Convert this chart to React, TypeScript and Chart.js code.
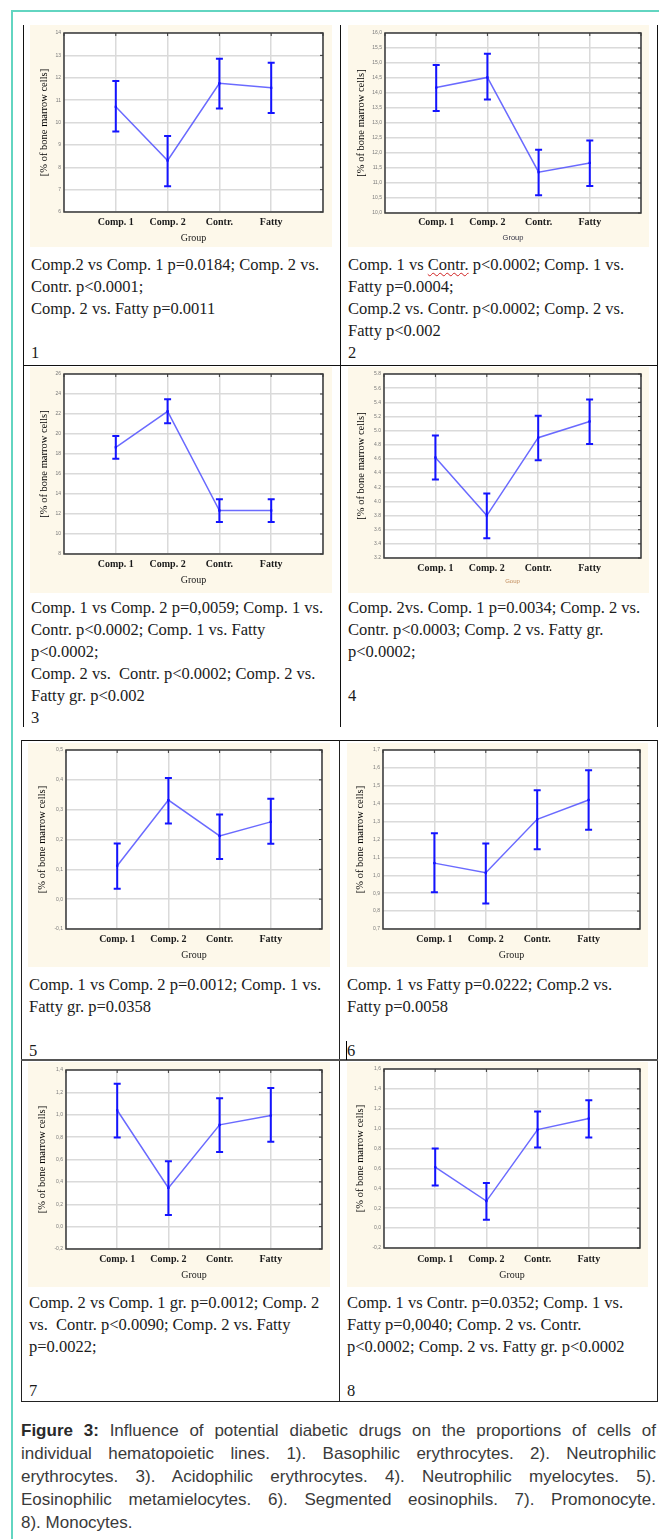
import React, { useEffect, useRef } from 'react';
import { Chart, registerables } from 'chart.js';

Chart.register(...registerables);

// ---------------- DATA ----------------
const categories = ['Comp. 1', 'Comp. 2', 'Contr.', 'Fatty'];
const yAxisTitle = '[% of bone marrow cells]';

// 1) Basophilic erythrocytes
const mean1 = [10.7, 8.3, 11.75, 11.55];
const lower1 = [9.6, 7.15, 10.63, 10.43];
const upper1 = [11.85, 9.4, 12.85, 12.67];
const ticks1 = [6, 7, 8, 9, 10, 11, 12, 13, 14];

// 2) Neutrophilic erythrocytes
const mean2 = [14.18, 14.52, 11.36, 11.67];
const lower2 = [13.4, 13.78, 10.59, 10.9];
const upper2 = [14.93, 15.31, 12.11, 12.42];
const ticks2 = [10, 10.5, 11, 11.5, 12, 12.5, 13, 13.5, 14, 14.5, 15, 15.5, 16];

// 3) Acidophilic erythrocytes
const mean3 = [18.67, 22.27, 12.35, 12.35];
const lower3 = [17.53, 21.07, 11.2, 11.2];
const upper3 = [19.8, 23.47, 13.47, 13.47];
const ticks3 = [8, 10, 12, 14, 16, 18, 20, 22, 24, 26];

// 4) Neutrophilic myelocytes
const mean4 = [4.62, 3.8, 4.9, 5.13];
const lower4 = [4.31, 3.48, 4.58, 4.81];
const upper4 = [4.93, 4.11, 5.21, 5.44];
const ticks4 = [3.2, 3.4, 3.6, 3.8, 4.0, 4.2, 4.4, 4.6, 4.8, 5.0, 5.2, 5.4, 5.6, 5.8];

// 5) Eosinophilic metamielocytes
const mean5 = [0.112, 0.332, 0.212, 0.259];
const lower5 = [0.035, 0.254, 0.135, 0.186];
const upper5 = [0.187, 0.406, 0.284, 0.337];
const ticks5 = [-0.1, 0, 0.1, 0.2, 0.3, 0.4, 0.5];

// 6) Segmented eosinophils
const mean6 = [1.068, 1.014, 1.313, 1.421];
const lower6 = [0.906, 0.843, 1.146, 1.254];
const upper6 = [1.235, 1.178, 1.475, 1.587];
const ticks6 = [0.7, 0.8, 0.9, 1.0, 1.1, 1.2, 1.3, 1.4, 1.5, 1.6, 1.7];

// 7) Promonocyte
const mean7 = [1.04, 0.346, 0.91, 0.993];
const lower7 = [0.797, 0.103, 0.667, 0.759];
const upper7 = [1.278, 0.584, 1.148, 1.24];
const ticks7 = [-0.2, 0, 0.2, 0.4, 0.6, 0.8, 1.0, 1.2, 1.4];

// 8) Monocytes
const mean8 = [0.613, 0.272, 0.991, 1.102];
const lower8 = [0.429, 0.085, 0.81, 0.911];
const upper8 = [0.8, 0.453, 1.172, 1.286];
const ticks8 = [-0.2, 0, 0.2, 0.4, 0.6, 0.8, 1.0, 1.2, 1.4, 1.6];

// decimals and decimal separator of each chart's tick labels
const tickDecimals = [0, 1, 0, 1, 1, 1, 1, 1];
const tickSeparators = ['.', ',', '.', '.', ',', ',', ',', ','];
const groupTitles = ['Group', 'Group', 'Group', 'Goup', 'Group', 'Group', 'Group', 'Group'];

const cellTexts = [
  ['Comp.2 vs Comp. 1 p=0.0184; Comp. 2 vs.', 'Contr. p<0.0001;', 'Comp. 2 vs. Fatty p=0.0011', '', '1'],
  ['Comp. 1 vs Contr. p<0.0002; Comp. 1 vs.', 'Fatty p=0.0004;', 'Comp.2 vs. Contr. p<0.0002; Comp. 2 vs.', 'Fatty p<0.002', '2'],
  ['Comp. 1 vs Comp. 2 p=0,0059; Comp. 1 vs.', 'Contr. p<0.0002; Comp. 1 vs. Fatty', 'p<0.0002;', 'Comp. 2 vs.  Contr. p<0.0002; Comp. 2 vs.', 'Fatty gr. p<0.002', '3'],
  ['Comp. 2vs. Comp. 1 p=0.0034; Comp. 2 vs.', 'Contr. p<0.0003; Comp. 2 vs. Fatty gr.', 'p<0.0002;', '', '4'],
  ['Comp. 1 vs Comp. 2 p=0.0012; Comp. 1 vs.', 'Fatty gr. p=0.0358', '', '5'],
  ['Comp. 1 vs Fatty p=0.0222; Comp.2 vs.', 'Fatty p=0.0058', '', '6'],
  ['Comp. 2 vs Comp. 1 gr. p=0.0012; Comp. 2', 'vs.  Contr. p<0.0090; Comp. 2 vs. Fatty', 'p=0.0022;', '', '7'],
  ['Comp. 1 vs Contr. p=0.0352; Comp. 1 vs.', 'Fatty p=0,0040; Comp. 2 vs. Contr.', 'p<0.0002; Comp. 2 vs. Fatty gr. p<0.0002', '', '8'],
];

const captionLines = [
  'Influence of potential diabetic drugs on the proportions of cells of',
  'individual hematopoietic lines. 1). Basophilic erythrocytes. 2). Neutrophilic',
  'erythrocytes. 3). Acidophilic erythrocytes. 4). Neutrophilic myelocytes. 5).',
  'Eosinophilic metamielocytes. 6). Segmented eosinophils. 7). Promonocyte.',
  '8). Monocytes.',
];

const means = [mean1, mean2, mean3, mean4, mean5, mean6, mean7, mean8];
const lowers = [lower1, lower2, lower3, lower4, lower5, lower6, lower7, lower8];
const uppers = [upper1, upper2, upper3, upper4, upper5, upper6, upper7, upper8];
const tickLists = [ticks1, ticks2, ticks3, ticks4, ticks5, ticks6, ticks7, ticks8];

// ---------------- LAYOUT ----------------
type Box = { x: number; y: number; w: number; h: number; pl: number; pt: number; pr: number; pb: number; lab: number; grp: number; ttl: number };
const boxes: Box[] = [
  { x: 30, y: 25, w: 302, h: 222, pl: 34, pt: 8, pr: 293, pb: 187, lab: 197, grp: 213, ttl: 14 },
  { x: 348, y: 25, w: 301, h: 222, pl: 37, pt: 8, pr: 293, pb: 188, lab: 197, grp: 213, ttl: 13 },
  { x: 30, y: 367, w: 302, h: 226, pl: 34, pt: 7, pr: 293, pb: 187, lab: 197, grp: 213, ttl: 14 },
  { x: 348, y: 367, w: 301, h: 226, pl: 36, pt: 7, pr: 293, pb: 191, lab: 201, grp: 214, ttl: 13 },
  { x: 28, y: 743, w: 302, h: 224, pl: 38, pt: 7, pr: 294, pb: 186, lab: 196, grp: 212, ttl: 14 },
  { x: 347, y: 743, w: 301, h: 224, pl: 36, pt: 7, pr: 293, pb: 186, lab: 196, grp: 212, ttl: 13 },
  { x: 28, y: 1062, w: 302, h: 225, pl: 38, pt: 8, pr: 294, pb: 187, lab: 197, grp: 213, ttl: 14 },
  { x: 347, y: 1062, w: 301, h: 225, pl: 37, pt: 7, pr: 293, pb: 186, lab: 197, grp: 213, ttl: 13 },
];

const textBlocks = [
  { x: 31, y: 254 },
  { x: 348, y: 254 },
  { x: 31, y: 597 },
  { x: 348, y: 597 },
  { x: 29, y: 974 },
  { x: 347, y: 974 },
  { x: 29, y: 1292 },
  { x: 347, y: 1292 },
];

const SERIF = "'Liberation Serif', 'Times New Roman', serif";
const SANS = "'Liberation Sans', Arial, sans-serif";

const plotPlugin = {
  id: 'plotFrame',
  beforeDraw(chart: any) {
    const { ctx, chartArea: a } = chart;
    ctx.save();
    ctx.fillStyle = '#ffffff';
    ctx.fillRect(a.left, a.top, a.right - a.left, a.bottom - a.top);
    ctx.restore();
  },
  beforeDatasetsDraw(chart: any) {
    const { ctx, chartArea: a } = chart;
    const xs = chart.scales.x;
    const ys = chart.scales.y;
    ctx.save();
    ctx.strokeStyle = '#3a3a3a';
    ctx.lineWidth = 1.5;
    ctx.strokeRect(a.left, a.top, a.right - a.left, a.bottom - a.top);
    ctx.lineWidth = 1;
    ctx.beginPath();
    ys.ticks.forEach((t: any) => {
      const y = ys.getPixelForValue(t.value);
      ctx.moveTo(a.right, y);
      ctx.lineTo(a.right - 3, y);
    });
    xs.ticks.forEach((t: any) => {
      const x = xs.getPixelForValue(t.value);
      ctx.moveTo(x, a.top);
      ctx.lineTo(x, a.top + 3);
    });
    ctx.stroke();
    ctx.restore();
  },
};

const errorBarPlugin = {
  id: 'errorBars',
  afterDatasetsDraw(chart: any, _args: any, opts: any) {
    const { ctx } = chart;
    const xs = chart.scales.x;
    const ys = chart.scales.y;
    ctx.save();
    ctx.strokeStyle = '#1414ff';
    ctx.lineWidth = 2;
    const cap = 3.5;
    (opts.lower as number[]).forEach((lo, i) => {
      const hi = opts.upper[i];
      const x = xs.getPixelForValue(i + 1);
      const y1 = ys.getPixelForValue(lo);
      const y2 = ys.getPixelForValue(hi);
      ctx.beginPath();
      ctx.moveTo(x, y1);
      ctx.lineTo(x, y2);
      ctx.moveTo(x - cap, y1);
      ctx.lineTo(x + cap, y1);
      ctx.moveTo(x - cap, y2);
      ctx.lineTo(x + cap, y2);
      ctx.stroke();
    });
    ctx.restore();
  },
};

function ErrChart({ idx }: { idx: number }) {
  const ref = useRef<HTMLCanvasElement>(null);
  const b = boxes[idx];
  useEffect(() => {
    const canvas = ref.current!;
    const mean = means[idx];
    const tickVals = tickLists[idx];
    const dec = tickDecimals[idx];
    const sep = tickSeparators[idx];
    const isGoup = groupTitles[idx] === 'Goup';
    const isSansGroup = idx === 1;
    const titleFont = isGoup
      ? { family: SANS, size: 6 }
      : isSansGroup
      ? { family: SANS, size: 7.5 }
      : { family: SERIF, size: 10 };
    const titleLH = titleFont.size * 1.2;
    const chart = new Chart(canvas, {
      type: 'line',
      data: {
        datasets: [
          {
            data: mean.map((v, i) => ({ x: i + 1, y: v })),
            borderColor: 'rgba(80,80,255,0.85)',
            borderWidth: 1.5,
            pointStyle: 'rect',
            pointRadius: 1.6,
            pointBackgroundColor: '#0000ff',
            pointBorderWidth: 0,
            tension: 0,
          } as any,
        ],
      },
      options: {
        animation: false,
        responsive: false,
        maintainAspectRatio: false,
        devicePixelRatio: 1,
        events: [],
        layout: { padding: { left: 0, top: b.pt, right: b.w - b.pr, bottom: 0 } },
        plugins: {
          legend: { display: false },
          tooltip: { enabled: false },
          errorBars: { lower: lowers[idx], upper: uppers[idx] },
        } as any,
        scales: {
          x: {
            type: 'linear',
            min: 0,
            max: categories.length + 1,
            afterFit: (s: any) => {
              s.height = b.h - b.pb;
            },
            afterBuildTicks: (s: any) => {
              s.ticks = [0, 1, 2, 3, 4, 5].map((v) => ({ value: v }));
            },
            ticks: {
              autoSkip: false,
              maxRotation: 0,
              padding: b.lab - b.pb - 6,
              font: { family: SERIF, size: 10, weight: 'bold' },
              color: '#1a1a1a',
              callback: (v: any) => categories[Number(v) - 1] ?? '',
            },
            grid: { color: '#dadada', lineWidth: 1.5, drawTicks: false },
            border: { display: false },
            title: {
              display: true,
              text: groupTitles[idx],
              font: titleFont as any,
              color: isGoup ? '#c08a5a' : isSansGroup ? '#333344' : '#1a1a1a',
              padding: { top: 0, bottom: b.h - b.grp - titleLH / 2 },
            },
          } as any,
          y: {
            type: 'linear',
            min: tickVals[0],
            max: tickVals[tickVals.length - 1],
            afterFit: (s: any) => {
              s.width = b.pl;
            },
            afterBuildTicks: (s: any) => {
              s.ticks = tickVals.map((v) => ({ value: v }));
            },
            ticks: {
              padding: 3,
              autoSkip: false,
              font: { family: SANS, size: 5 },
              color: '#7a7a7a',
              callback: (v: any) => Number(v).toFixed(dec).replace('.', sep),
            },
            grid: { color: '#dadada', lineWidth: 1.5, drawTicks: false },
            border: { display: false },
            title: {
              display: true,
              text: yAxisTitle,
              font: { family: SERIF, size: 10.5 },
              color: '#000000',
              padding: { top: b.ttl - 6.3, bottom: 0 },
            },
          } as any,
        },
      },
      plugins: [plotPlugin, errorBarPlugin],
    });
    return () => chart.destroy();
  }, [idx]);
  return (
    <div style={{ position: 'absolute', left: b.x, top: b.y, width: b.w, height: b.h, background: '#fdf8ea' }}>
      <canvas ref={ref} width={b.w} height={b.h} style={{ display: 'block', width: b.w, height: b.h }} />
    </div>
  );
}

function Line({ x, y, w, h, c }: { x: number; y: number; w: number; h: number; c: string }) {
  return <div style={{ position: 'absolute', left: x, top: y, width: w, height: h, background: c }} />;
}

function CellText({ idx }: { idx: number }) {
  const p = textBlocks[idx];
  const lines = cellTexts[idx];
  return (
    <div
      style={{
        position: 'absolute',
        left: p.x,
        top: p.y,
        fontFamily: SERIF,
        fontSize: 16.5,
        lineHeight: '22px',
        color: '#1b1b1b',
        whiteSpace: 'pre',
      }}
    >
      {lines.map((ln, i) => {
        if (idx === 1 && i === 0) {
          const parts = ln.split('Contr.');
          return (
            <div key={i}>
              {parts[0]}
              <span style={{ textDecoration: 'underline wavy #d02020', textDecorationThickness: 1, textUnderlineOffset: 2 }}>Contr.</span>
              {parts.slice(1).join('Contr.')}
            </div>
          );
        }
        if (idx === 5 && i === lines.length - 1) {
          return (
            <div key={i}>
              <span style={{ borderLeft: '1px solid #000', marginLeft: -1 }}>{ln}</span>
            </div>
          );
        }
        return <div key={i}>{ln === '' ? '\u00a0' : ln}</div>;
      })}
    </div>
  );
}

export default function App() {
  useEffect(() => {
    document.body.style.margin = '0';
  }, []);
  return (
    <div style={{ position: 'absolute', left: 0, top: 0, width: 659, height: 1539, overflow: 'hidden', background: '#fff' }}>
      {/* teal outer frame */}
      <div style={{ position: 'absolute', left: 11, top: 10, width: 660, height: 1600, borderLeft: '2px solid #62d5c1', borderTop: '2px solid #62d5c1' }} />

      {/* table 1 */}
      <Line x={23} y={25} w={1} h={702} c="#111" />
      <Line x={340} y={25} w={1} h={702} c="#111" />
      <Line x={657} y={25} w={1} h={702} c="#111" />
      <Line x={23} y={365} w={635} h={1} c="#111" />

      {/* table 2 */}
      <Line x={21} y={740} w={637} h={1} c="#111" />
      <Line x={21} y={740} w={1} h={662} c="#222" />
      <Line x={339} y={740} w={1} h={662} c="#222" />
      <Line x={657} y={740} w={1} h={662} c="#222" />
      <Line x={21} y={1059} w={637} h={2} c="#555" />
      <Line x={21} y={1401} w={637} h={1} c="#222" />

      {[0, 1, 2, 3, 4, 5, 6, 7].map((i) => (
        <ErrChart key={'c' + i} idx={i} />
      ))}
      {[0, 1, 2, 3, 4, 5, 6, 7].map((i) => (
        <CellText key={'t' + i} idx={i} />
      ))}

      {/* caption */}
      <div
        style={{
          position: 'absolute',
          left: 21,
          top: 1419,
          width: 635,
          fontFamily: SANS,
          fontSize: 17,
          lineHeight: '23px',
          color: '#3a3a3a',
        }}
      >
        {captionLines.map((ln, i) => (
          <div
            key={i}
            style={{
              textAlign: 'justify',
              textAlignLast: i === captionLines.length - 1 ? 'left' : 'justify',
              whiteSpace: 'normal',
            }}
          >
            {i === 0 ? (
              <>
                <b style={{ color: '#2a2a2a' }}>Figure 3:</b> {ln}
              </>
            ) : (
              ln
            )}
          </div>
        ))}
      </div>
    </div>
  );
}
